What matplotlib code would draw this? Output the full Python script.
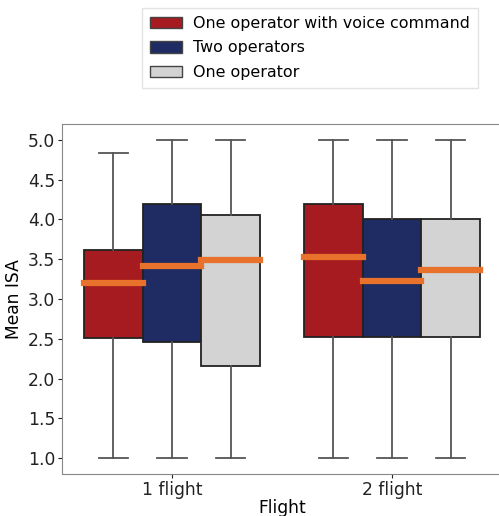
import matplotlib
matplotlib.use("Agg")
import matplotlib.pyplot as plt
from matplotlib.patches import Patch

# data
flights = ["1 flight", "2 flight"]
groups = ["One operator with voice command", "Two operators", "One operator"]
colors = ["#a51b1f", "#1e2c63", "#d3d3d3"]

# per group: [1 flight, 2 flight]
whislo = {"One operator with voice command": [1.0, 1.0],
          "Two operators": [1.0, 1.0],
          "One operator": [1.0, 1.0]}
q1 = {"One operator with voice command": [2.51, 2.52],
      "Two operators": [2.46, 2.52],
      "One operator": [2.16, 2.52]}
med = {"One operator with voice command": [3.20, 3.53],
       "Two operators": [3.41, 3.23],
       "One operator": [3.49, 3.37]}
q3 = {"One operator with voice command": [3.61, 4.20],
      "Two operators": [4.20, 4.00],
      "One operator": [4.05, 4.01]}
whishi = {"One operator with voice command": [4.83, 5.0],
          "Two operators": [5.0, 5.0],
          "One operator": [5.0, 5.0]}

fig = plt.figure(figsize=(4.99, 5.16), dpi=100)
ax = fig.add_axes([0.1242, 0.0814, 0.882, 0.6783])

width = 0.8 / len(groups)
for j, g in enumerate(groups):
    stats = []
    for i in range(len(flights)):
        stats.append(dict(whislo=whislo[g][i], q1=q1[g][i], med=med[g][i],
                          q3=q3[g][i], whishi=whishi[g][i], fliers=[]))
    pos = [i - 0.4 + width * (j + 0.5) for i in range(len(flights))]
    ax.bxp(stats, positions=pos, widths=width, patch_artist=True,
           showfliers=False,
           boxprops=dict(facecolor=colors[j], edgecolor="#222222", linewidth=1.3),
           whiskerprops=dict(color="#555555", linewidth=1.3),
           capprops=dict(color="#555555", linewidth=1.3),
           medianprops=dict(color="#e8722b", linewidth=4.5, solid_capstyle="projecting"))

ax.set_xlim(-0.5, 1.5)
ax.set_ylim(0.8, 5.2)
ax.set_xticks(range(len(flights)))
ax.set_xticklabels(flights)
ax.set_yticks([1.0, 1.5, 2.0, 2.5, 3.0, 3.5, 4.0, 4.5, 5.0])
ax.set_yticklabels(["1.0", "1.5", "2.0", "2.5", "3.0", "3.5", "4.0", "4.5", "5.0"])
ax.tick_params(labelsize=12.3, colors="#222222", length=3, pad=2)
ax.set_xlabel("Flight", fontsize=12.3, labelpad=0)
ax.set_ylabel("Mean ISA", fontsize=12.3, labelpad=3)
for s in ax.spines.values():
    s.set_color("#888888")

handles = [Patch(facecolor=c, edgecolor="#444444", label=g) for c, g in zip(colors, groups)]
fig.legend(handles=handles, loc="upper left", bbox_to_anchor=(0.2846, 0.9845),
           borderaxespad=0, fontsize=11.4, frameon=True, edgecolor="#dddddd",
           fancybox=False, handlelength=2.0, handleheight=0.75, handletextpad=0.75,
           borderpad=0.5, labelspacing=0.6)

fig.savefig("out.png", dpi=100)
